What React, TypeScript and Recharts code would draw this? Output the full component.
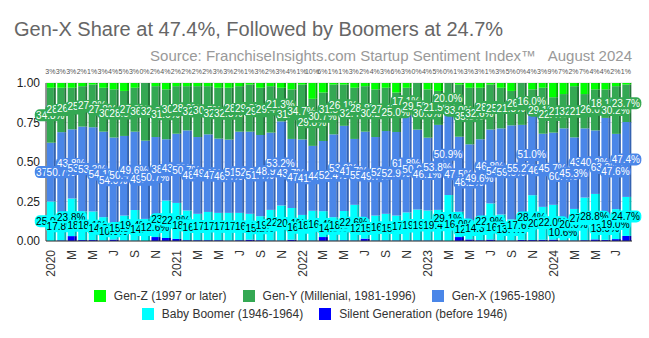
import { BarChart, Bar, XAxis, YAxis, CartesianGrid, LabelList } from 'recharts';

const FONT = '"Liberation Sans", Arial, sans-serif';

// Jan 2020 .. Aug 2024, one entry per month
const tickLabels = [
  '2020', '', 'M', '', 'M', '', 'J', '', 'S', '', 'N', '',
  '2021', '', 'M', '', 'M', '', 'J', '', 'S', '', 'N', '',
  '2022', '', 'M', '', 'M', '', 'J', '', 'S', '', 'N', '',
  '2023', '', 'M', '', 'M', '', 'J', '', 'S', '', 'N', '',
  '2024', '', 'M', '', 'M', '', 'J', '',
];

const genZ = [
  3, 3, 3, 2, 1, 3, 4, 5, 3, 0, 2, 4,
  2, 2, 2, 2, 3, 3, 2, 1, 3, 2, 3, 4,
  1, 10, 6, 1, 1, 3, 2, 4, 3, 6, 3, 0,
  4, 5, 0, 1, 3, 3, 1, 3, 5, 0, 4, 3,
  9, 7, 2, 7, 4, 4, 2, 1,
];
const genY = [
  34.8, 28.1, 26.3, 25.6, 27.0, 27.8, 30.5, 28.5, 27.8, 36.5, 32.2, 31.6,
  30.1, 28.0, 32.2, 30.5, 32.2, 32.8, 28.8, 29.8, 29.9, 29.4, 21.3, 31.4,
  34.7, 29.8, 30.7, 31.5, 26.1, 32.4, 28.8, 30.2, 27.4, 25.0, 17.1, 29.5,
  30.6, 21.5, 20.0, 33.0, 35.8, 32.6, 28.4, 25.7, 21.8, 26.5, 16.0, 29.1,
  22.4, 21.7, 32.4, 21.7, 26.0, 18.1, 30.2, 23.7,
];
const genX = [
  37.2, 50.7, 43.8, 53.6, 53.3, 54.1, 54.0, 50.4, 49.6, 49.5, 50.7, 38.8,
  43.8, 50.7, 48.6, 49.1, 47.0, 46.4, 51.4, 52.0, 51.4, 48.9, 53.2, 43.7,
  47.8, 41.1, 44.4, 52.4, 53.9, 41.7, 55.5, 49.7, 52.4, 52.9, 61.8, 50.6,
  46.1, 53.8, 50.9, 47.5, 48.2, 49.6, 46.8, 54.5, 59.5, 55.2, 51.0, 46.3,
  45.7, 60.4, 45.3, 43.8, 40.2, 63.3, 47.6, 47.4,
];
const boomer = [
  25.0, 17.8, 23.8, 18.2, 18.1, 14.8, 10.6, 15.8, 19.4, 14.0, 12.6, 23.7,
  22.8, 18.8, 16.7, 17.9, 17.3, 17.5, 17.3, 16.4, 15.2, 19.4, 22.2, 20.1,
  16.2, 18.8, 16.4, 14.8, 18.6, 22.6, 12.2, 15.8, 16.9, 15.8, 17.8, 19.6,
  19.0, 19.4, 29.1, 16.0, 12.0, 14.3, 22.9, 16.5, 13.4, 17.6, 28.4, 20.8,
  22.0, 10.6, 20.0, 27.0, 28.8, 13.9, 19.0, 24.7,
];
const silent = [
  0, 0.4, 3.1, 0.6, 0.6, 0.3, 0.9, 0.3, 0.2, 0, 2.5, 1.9,
  1.3, 0.5, 0.5, 0.5, 0.5, 0.3, 0.5, 0.8, 0.5, 0.3, 0.3, 0.8,
  0.3, 0.3, 2.5, 0.3, 0.4, 0.3, 1.5, 0.3, 0.3, 0.3, 0.3, 0.3,
  0.3, 0.3, 0, 2.5, 1.0, 0.5, 0.9, 0.3, 0.3, 0.7, 0.6, 0.8,
  0.9, 0.3, 0.3, 0.5, 1.0, 0.7, 1.2, 3.2,
];

const data = tickLabels.map((t, i) => ({
  idx: i,
  genZ: genZ[i],
  genY: genY[i],
  genX: genX[i],
  boomer: boomer[i],
  silent: silent[i],
}));

const COLORS = {
  genZ: ['#00ff00', '#00b400'],
  genY: ['#34a853', '#23763a'],
  genX: ['#4a86e8', '#3462b0'],
  boomer: ['#00ffff', '#00b8b8'],
  silent: ['#0000ff', '#0000a0'],
};

const legendRows = [
  [
    { name: 'Gen-Z (1997 or later)', color: COLORS.genZ[0] },
    { name: 'Gen-Y (Millenial, 1981-1996)', color: COLORS.genY[0] },
    { name: 'Gen-X (1965-1980)', color: COLORS.genX[0] },
  ],
  [
    { name: 'Baby Boomer (1946-1964)', color: COLORS.boomer[0] },
    { name: 'Silent Generation (before 1946)', color: COLORS.silent[0] },
  ],
];

const box = (props: any) => {
  const vb = props.viewBox || {};
  const x = vb.x ?? props.x;
  const y = vb.y ?? props.y;
  const w = vb.width ?? props.width;
  const h = vb.height ?? props.height;
  return { x: Number(x), y: Math.min(Number(y), Number(y) + Number(h)), w: Number(w), h: Math.abs(Number(h)) };
};

const readValue = (props: any) => {
  let v = props.value;
  if (Array.isArray(v)) v = (v[1] - v[0]) * 100;
  return Number(v);
};

const make3D = (face: string, side: string) => (props: any) => {
  const { x, y, width, height } = props;
  if (!height || height <= 0 || !width) return <g />;
  return (
    <g>
      <rect x={x} y={y} width={Math.max(width - 2, 0)} height={height} fill={face} />
      <rect x={x + width - 2} y={y} width={2} height={height} fill={side} />
    </g>
  );
};

const makeSegLabel = (bg: string, fg: string) => (props: any) => {
  const v = readValue(props);
  if (!isFinite(v) || v <= 0) return <g />;
  const { x, y, w, h } = box(props);
  const text = `${v.toFixed(1)}%`;
  const cx = x + (w - 2) / 2;
  const cy = y + h / 2;
  const tw = text.length * 5.6 + 3;
  return (
    <g>
      <rect x={cx - tw / 2} y={cy - 6} width={tw} height={12} rx={5} fill={bg} />
      <text x={cx} y={cy} dy="0.35em" textAnchor="middle" fontSize={10} fill={fg} fontFamily={FONT}>
        {text}
      </text>
    </g>
  );
};

const TopLabel = (props: any) => {
  const v = readValue(props);
  if (!isFinite(v)) return <g />;
  const { x, w } = box(props);
  return (
    <text x={x + (w - 2) / 2} y={72} dy="0.35em" textAnchor="middle" fontSize={7} fill="#555" fontFamily={FONT}>
      {`${Math.round(v)}%`}
    </text>
  );
};

const MonthTick = (props: any) => {
  const { x, y, payload } = props;
  const t = tickLabels[payload?.value] ?? '';
  if (!t) return <g />;
  const ay = y + 1;
  return (
    <text
      x={x}
      y={ay}
      dy="0.35em"
      transform={`rotate(-90 ${x} ${ay})`}
      textAnchor="end"
      fontSize={12}
      fill="#333"
      fontFamily={FONT}
    >
      {t}
    </text>
  );
};

export default function App() {
  return (
    <div style={{ position: 'absolute', left: 0, top: 0, width: 649, height: 338, background: '#fff', fontFamily: FONT }}>
      <div style={{ position: 'absolute', left: 14, top: 19, fontSize: 20, lineHeight: '20px', color: '#666', whiteSpace: 'nowrap' }}>
        Gen-X Share at 47.4%, Followed by Boomers at 24.7%
      </div>
      <div style={{ position: 'absolute', right: 17, top: 48, fontSize: 15, lineHeight: '15px', color: '#999', whiteSpace: 'pre' }}>
        {'Source: FranchiseInsights.com Startup Sentiment Index™   August 2024'}
      </div>
      <BarChart
        width={649}
        height={338}
        data={data}
        stackOffset="expand"
        barCategoryGap={0.8}
        margin={{ top: 83, right: 17, bottom: 57, left: 6 }}
      >
        <CartesianGrid vertical={false} stroke="#ddd" />
        <XAxis
          dataKey="idx"
          interval={0}
          tick={<MonthTick />}
          tickLine={false}
          axisLine={{ stroke: '#333' }}
          height={40}
        />
        <YAxis
          domain={[0, 1]}
          ticks={[0, 0.25, 0.5, 0.75, 1]}
          tickFormatter={(v: number) => v.toFixed(2)}
          tick={{ fontSize: 12, fill: '#222', fontFamily: FONT }}
          tickLine={false}
          tickSize={4}
          axisLine={{ stroke: '#333' }}
          width={40}
        />
        <Bar dataKey="silent" stackId="a" fill={COLORS.silent[0]} shape={make3D(COLORS.silent[0], COLORS.silent[1])} isAnimationActive={false} />
        <Bar dataKey="boomer" stackId="a" fill={COLORS.boomer[0]} shape={make3D(COLORS.boomer[0], COLORS.boomer[1])} isAnimationActive={false}>
          <LabelList dataKey="boomer" content={makeSegLabel(COLORS.boomer[0], '#000')} />
        </Bar>
        <Bar dataKey="genX" stackId="a" fill={COLORS.genX[0]} shape={make3D(COLORS.genX[0], COLORS.genX[1])} isAnimationActive={false}>
          <LabelList dataKey="genX" content={makeSegLabel(COLORS.genX[0], '#fff')} />
        </Bar>
        <Bar dataKey="genY" stackId="a" fill={COLORS.genY[0]} shape={make3D(COLORS.genY[0], COLORS.genY[1])} isAnimationActive={false}>
          <LabelList dataKey="genY" content={makeSegLabel(COLORS.genY[0], '#fff')} />
        </Bar>
        <Bar dataKey="genZ" stackId="a" fill={COLORS.genZ[0]} shape={make3D(COLORS.genZ[0], COLORS.genZ[1])} isAnimationActive={false}>
          <LabelList dataKey="genZ" content={<TopLabel />} />
        </Bar>
      </BarChart>
      <div style={{ position: 'absolute', left: 0, top: 287, width: 649, fontSize: 12, color: '#333' }}>
        {legendRows.map((row, r) => (
          <div key={r} style={{ display: 'flex', justifyContent: 'center', height: 18, alignItems: 'center' }}>
            {row.map((item) => (
              <div key={item.name} style={{ display: 'flex', alignItems: 'center', margin: '0 8px' }}>
                <span style={{ width: 12, height: 12, background: item.color, display: 'inline-block', marginRight: 8 }} />
                <span style={{ whiteSpace: 'nowrap' }}>{item.name}</span>
              </div>
            ))}
          </div>
        ))}
      </div>
    </div>
  );
}
